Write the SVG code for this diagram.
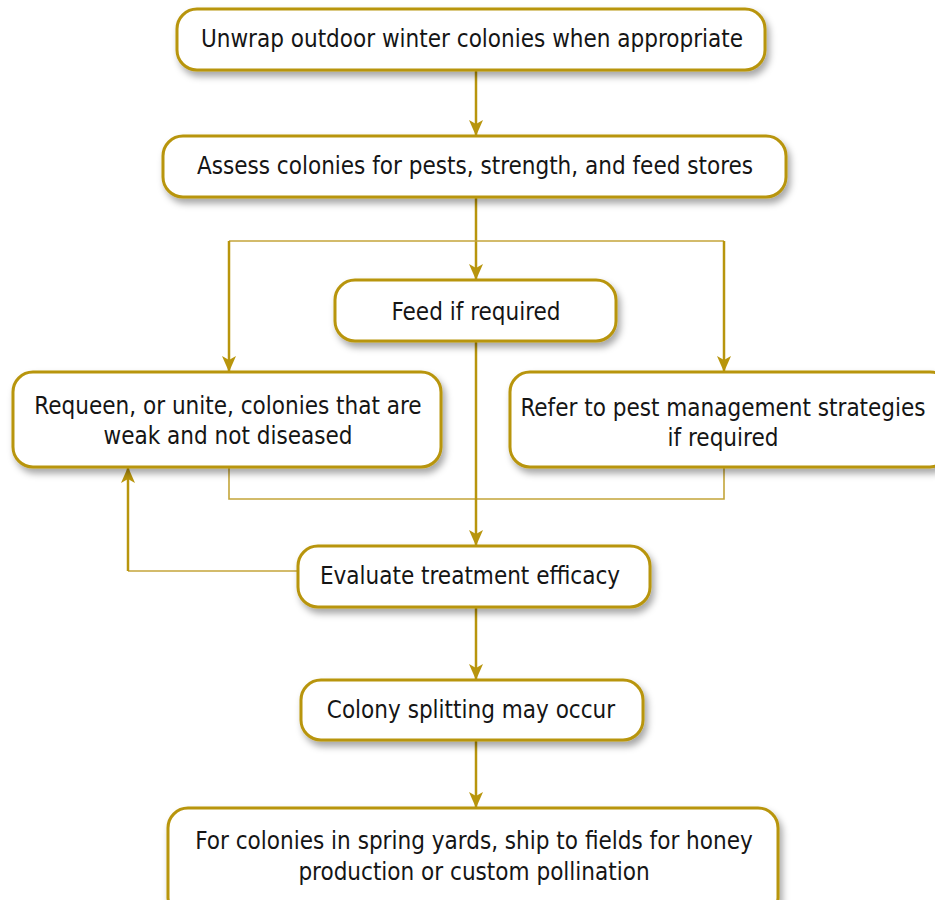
<svg xmlns="http://www.w3.org/2000/svg" width="935" height="900" viewBox="0 0 935 900">
  <defs>
    <filter id="shadow" x="-10%" y="-20%" width="125%" height="160%">
      <feDropShadow dx="3" dy="5" stdDeviation="3.5" flood-color="#000" flood-opacity="0.35"/>
    </filter>
    <marker id="arrow" viewBox="0 0 16 14" refX="16" refY="7" markerWidth="16" markerHeight="14" markerUnits="userSpaceOnUse" orient="auto">
      <path d="M0,0 L16,7 L0,14 L4,7 Z" fill="#b8950c"/>
    </marker>
  </defs>
  <style>
    .box { fill: #ffffff; stroke: #b8950c; stroke-width: 3; filter: url(#shadow); }
    .label { font-family: "DejaVu Sans Condensed", "DejaVu Sans", sans-serif; font-size: 24px; fill: #151515; text-anchor: middle; }
    .wire { fill: none; stroke: #b8950c; stroke-width: 2.5; }
    .thin { fill: none; stroke: #c4a53a; stroke-width: 1.6; }
  </style>

  <g id="connectors">
    <line class="wire" x1="476" y1="70" x2="476" y2="136" marker-end="url(#arrow)"/>
    <line class="wire" x1="476" y1="197" x2="476" y2="280" marker-end="url(#arrow)"/>
    <polyline class="thin" points="229,241 724,241"/>
    <line class="wire" x1="229" y1="241" x2="229" y2="372" marker-end="url(#arrow)"/>
    <line class="wire" x1="724" y1="241" x2="724" y2="372" marker-end="url(#arrow)"/>
    <polyline class="thin" points="229,467 229,499 724,499 724,467"/>
    <line class="wire" x1="476" y1="341" x2="476" y2="546" marker-end="url(#arrow)"/>
    <polyline class="thin" points="298,571 128,571"/>
    <line class="wire" x1="128" y1="571" x2="128" y2="467" marker-end="url(#arrow)"/>
    <line class="wire" x1="476" y1="607" x2="476" y2="680" marker-end="url(#arrow)"/>
    <line class="wire" x1="476" y1="740" x2="476" y2="808" marker-end="url(#arrow)"/>
  </g>

  <g id="unwrap">
    <rect class="box" x="177" y="9" width="588" height="61" rx="20"/>
    <text class="label" x="472" y="47">Unwrap outdoor winter colonies when appropriate</text>
  </g>
  <g id="assess">
    <rect class="box" x="163" y="136" width="623" height="61" rx="20"/>
    <text class="label" x="475" y="174">Assess colonies for pests, strength, and feed stores</text>
  </g>
  <g id="feed">
    <rect class="box" x="335" y="280" width="281" height="61" rx="20"/>
    <text class="label" x="476" y="320">Feed if required</text>
  </g>
  <g id="requeen">
    <rect class="box" x="13" y="372" width="428" height="95" rx="20"/>
    <text class="label" x="228" y="414">Requeen, or unite, colonies that are</text>
    <text class="label" x="228" y="444">weak and not diseased</text>
  </g>
  <g id="pest">
    <rect class="box" x="510" y="372" width="440" height="95" rx="20"/>
    <text class="label" x="723" y="416">Refer to pest management strategies</text>
    <text class="label" x="723" y="446">if required</text>
  </g>
  <g id="evaluate">
    <rect class="box" x="298" y="546" width="352" height="61" rx="20"/>
    <text class="label" x="470" y="584">Evaluate treatment efficacy</text>
  </g>
  <g id="split">
    <rect class="box" x="301" y="680" width="342" height="60" rx="20"/>
    <text class="label" x="471" y="718">Colony splitting may occur</text>
  </g>
  <g id="ship">
    <rect class="box" x="168" y="808" width="610" height="110" rx="20"/>
    <text class="label" x="474" y="849">For colonies in spring yards, ship to fields for honey</text>
    <text class="label" x="474" y="880">production or custom pollination</text>
  </g>
</svg>
